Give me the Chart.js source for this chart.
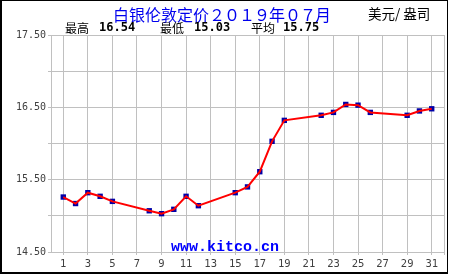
<!DOCTYPE html>
<html>
<head>
    <meta charset='UTF-8'>
    <script src="https://cdn.jsdelivr.net/npm/chart.js"></script>
    <style>
        body { margin: 0; background: #fff; }
        #wrap { position: relative; width: 450px; height: 275px; }
        #frame { position: absolute; left: 0; top: 0; width: 445px; height: 271px;
                 border: 1px solid #000; border-left-width: 2px; border-bottom-width: 2px; }
        .txt { position: absolute; white-space: pre; line-height: 1; }
        #title { left: 113px; top: 2px; font: 16px "Noto Sans CJK SC"; color: #0000ee; }
        #title span { letter-spacing: -1px; }
        #unit { left: 368px; top: 3px; font: 13.5px "Noto Sans CJK SC"; color: #000; }
        .lab { top: 19px; font: 12px "Noto Sans CJK SC"; color: #000; }
        .num { top: 19.5px; font: bold 12px "DejaVu Sans Mono"; color: #000; }
        #mark { left: 0; width: 450px; text-align: center; top: 239px;
                font: bold 15px "Liberation Mono"; color: #0000ff; }
    </style>
</head>
<title>Silver July 2019</title>

<body>
    <div id="wrap">
        <canvas id="myChart" width="450" height="275"></canvas>
        <div id="frame"></div>
        <div class="txt" id="title">白银伦敦定价<span>２０１９</span>年<span>０７</span>月</div>
        <div class="txt" id="unit">美元/ 盎司</div>
        <div class="txt lab" style="left:65px">最高</div>
        <div class="txt num" style="left:99px">16.54</div>
        <div class="txt lab" style="left:160px">最低</div>
        <div class="txt num" style="left:194px">15.03</div>
        <div class="txt lab" style="left:251px">平均</div>
        <div class="txt num" style="left:283px">15.75</div>
        <div class="txt" id="mark">www.kitco.cn</div>
    </div>
    <script>
        // trading days of July 2019 and the London silver fix
        const days = [1, 2, 3, 4, 5, 8, 9, 10, 11, 12, 15, 16, 17, 18, 19, 22, 23, 24, 25, 26, 29, 30, 31];
        const prices = [15.26, 15.17, 15.32, 15.27, 15.20, 15.07, 15.03, 15.09, 15.27, 15.14,
                        15.32, 15.40, 15.61, 16.03, 16.32, 16.39, 16.43, 16.54, 16.53, 16.43,
                        16.39, 16.45, 16.48];
        const yLabels = [14.5, 15.5, 16.5, 17.5];

        const pts = days.map((d, i) => ({ x: d, y: prices[i] }));
        const grid = '#c0c0c0';

        const config = {
            type: 'scatter',
            data: {
                datasets: [{
                    data: pts,
                    showLine: true,
                    borderColor: '#ff0000',
                    borderWidth: 2,
                    tension: 0,
                    pointRadius: 0,
                    order: 0
                }, {
                    data: pts,
                    showLine: false,
                    pointStyle: 'rect',
                    pointRadius: 3.8,
                    pointBorderWidth: 0,
                    backgroundColor: '#0000a8',
                    borderColor: '#0000a8',
                    order: 1
                }]
            },
            options: {
                animation: false,
                responsive: false,
                events: [],
                layout: { padding: { top: 35, right: 6, left: 0, bottom: 0 } },
                plugins: { legend: { display: false }, tooltip: { enabled: false } },
                scales: {
                    x: {
                        type: 'linear', min: 0, max: 32,
                        afterFit: s => { s.height = 23; },
                        border: { color: grid },
                        grid: {
                            color: c => (c.tick.value % 2 === 1 || c.tick.value === 32) ? grid : 'rgba(0,0,0,0)',
                            tickLength: 3
                        },
                        ticks: {
                            stepSize: 1, autoSkip: false, maxRotation: 0, padding: 3,
                            color: '#404040', font: { family: 'DejaVu Sans Mono', size: 10.5 },
                            callback: v => v % 2 === 1 ? String(v) : ''
                        }
                    },
                    y: {
                        min: 14.5, max: 17.5,
                        afterFit: s => { s.width = 51; },
                        border: { color: grid },
                        grid: { color: grid, tickLength: 3 },
                        ticks: {
                            stepSize: 0.5, padding: 2,
                            color: '#404040', font: { family: 'DejaVu Sans Mono', size: 10 },
                            callback: v => yLabels.includes(v) ? v.toFixed(2) : ''
                        }
                    }
                }
            }
        };
        const myChart = new Chart(document.getElementById('myChart'), config);
    </script>
</body>
</html>
